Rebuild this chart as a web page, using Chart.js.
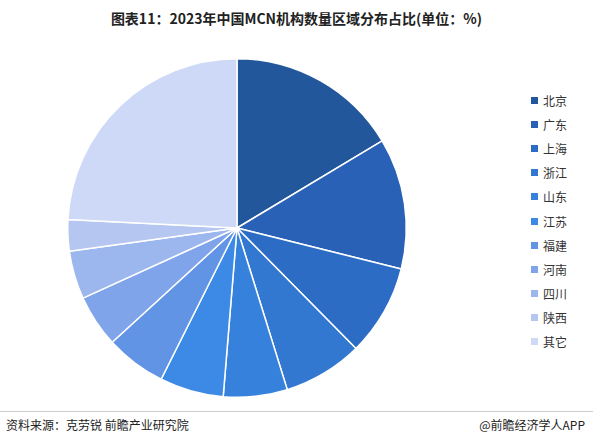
<!DOCTYPE html>
<html>
<head>
<meta charset="utf-8">
<script src="https://cdn.jsdelivr.net/npm/chart.js"></script>
<style>
  body { margin:0; width:593px; height:445px; background:#fff; font-family:"Noto Sans CJK SC","Noto Sans",sans-serif; position:relative; overflow:hidden; }
  #title { position:absolute; top:8px; left:0; width:593px; text-align:center; font-size:14px; font-weight:bold; color:#222; }
  #wrap { position:absolute; left:57px; top:48px; width:360px; height:360px; }
  #legend { position:absolute; left:531px; top:88px; font-size:12px; color:#333; }
  #legend div { height:24.2px; display:flex; align-items:center; }
  #legend span.box { width:7px; height:7px; margin-right:5px; display:inline-block; }
  #rule { position:absolute; left:0; top:411px; width:593px; border-top:1px solid #ccc; }
  #src { position:absolute; left:6px; top:416px; font-size:12px; color:#222; }
  #app { position:absolute; right:8px; top:416px; font-size:12px; color:#222; }
</style>
</head>
<body>
<div id="title">图表11：2023年中国MCN机构数量区域分布占比(单位：%)</div>
<div id="wrap"><canvas id="pie"></canvas></div>
<div id="legend"></div>
<div id="rule"></div>
<div id="src">资料来源：克劳锐 前瞻产业研究院</div>
<div id="app">@前瞻经济学人APP</div>
<script>
const regions = ['北京','广东','上海','浙江','山东','江苏','福建','河南','四川','陕西','其它'];
const shares = [16.4, 12.5, 8.7, 7.6, 6.1, 6.1, 5.8, 5.0, 4.6, 3.0, 24.2];
const colors = ['#23579b','#2961b6','#2d6cc5','#3277d0','#3681dc','#3d8ae6','#6294e6','#80a4ea','#9cb6ee','#b5c7f1','#cdd9f6'];

new Chart(document.getElementById('pie'), {
  type: 'pie',
  data: { labels: regions, datasets: [{ data: shares, backgroundColor: colors, borderColor: '#fff', borderWidth: 1.5 }] },
  options: {
    responsive: true, maintainAspectRatio: false, animation: false,
    layout: { padding: 10 },
    plugins: { legend: { display: false }, tooltip: { enabled: false } }
  }
});

const lg = document.getElementById('legend');
regions.forEach((r, i) => {
  const d = document.createElement('div');
  d.innerHTML = '<span class="box" style="background:' + colors[i] + '"></span>' + r;
  lg.appendChild(d);
});
</script>
</body>
</html>
